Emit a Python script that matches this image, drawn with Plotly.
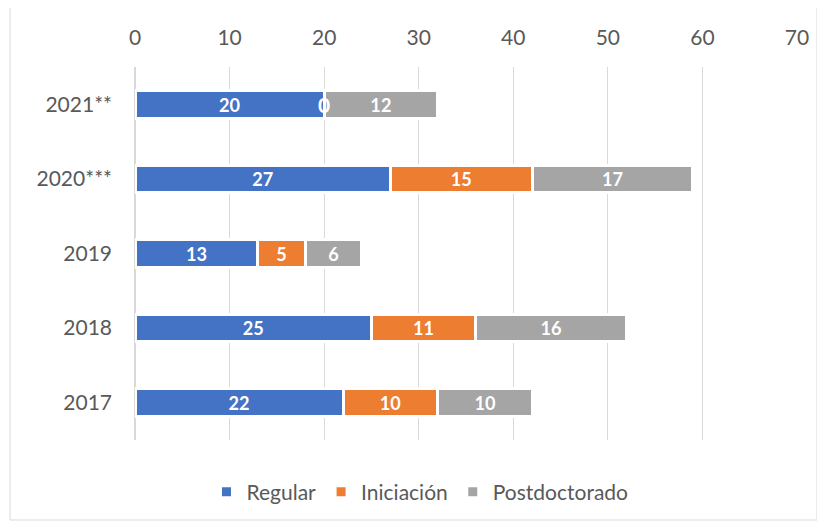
import plotly.graph_objects as go

categories = ["2017", "2018", "2019", "2020***", "2021**"]
regular = [22, 25, 13, 27, 20]
iniciacion = [10, 11, 5, 15, 0]
postdoctorado = [10, 16, 6, 17, 12]
x_ticks = [0, 10, 20, 30, 40, 50, 60, 70]

series = [
    ("Regular", regular, "#4472C4"),
    ("Iniciación", iniciacion, "#ED7D31"),
    ("Postdoctorado", postdoctorado, "#A5A5A5"),
]

FONT = "Lato"
fig = go.Figure()
for name, vals, color in series:
    fig.add_trace(go.Bar(
        y=categories, x=vals, name=name, orientation="h",
        marker=dict(color=color, line=dict(color="white", width=3)),
        text=[str(v) if v else "" for v in vals],
        textposition="inside", insidetextanchor="middle", textangle=0,
        textfont=dict(family=FONT, size=21, color="white", weight="bold"),
        width=0.37, hoverinfo="skip",
    ))

# labels for zero-value segments (drawn at the stacked position)
annotations = []
for i, cat in enumerate(categories):
    base = 0
    for name, vals, color in series:
        if vals[i] == 0:
            annotations.append(dict(x=base, y=cat, xref="x", yref="y", text="<b>0</b>",
                                    showarrow=False, font=dict(family=FONT, size=21, color="white")))
        base += vals[i]

# page body adds an 8px offset, so the figure is sized 8px smaller
fig.update_layout(
    barmode="stack",
    width=817, height=519,
    margin=dict(l=127, r=28, t=59, b=87, autoexpand=False),
    paper_bgcolor="white", plot_bgcolor="white",
    showlegend=True,
    legend=dict(orientation="h", x=0.108, xanchor="left", y=-0.14, yanchor="middle",
                font=dict(family=FONT, size=21, color="#595959"), traceorder="normal",
                itemwidth=30),
    annotations=annotations,
    xaxis=dict(side="top", range=[0, 70], tickvals=x_ticks, showgrid=True,
               gridcolor="#D9D9D9", gridwidth=1, zeroline=True, zerolinecolor="#D9D9D9",
               showline=False, ticks="", ticklabelstandoff=17, automargin=False,
               tickfont=dict(family=FONT, size=21, color="#595959")),
    yaxis=dict(categoryorder="array", categoryarray=categories, showgrid=False,
               showline=False, ticks="", ticklabelstandoff=22, automargin=False,
               tickfont=dict(family=FONT, size=21, color="#595959")),
    shapes=[dict(type="rect", xref="paper", yref="paper",
                 x0=(10 - 135) / 662, x1=(817 - 135) / 662,
                 y0=(440 - 520) / 373, y1=(440 - 7) / 373,
                 line=dict(color="#D9D9D9", width=1), fillcolor="rgba(0,0,0,0)", layer="below")],
)

fig.write_html("out.html")
